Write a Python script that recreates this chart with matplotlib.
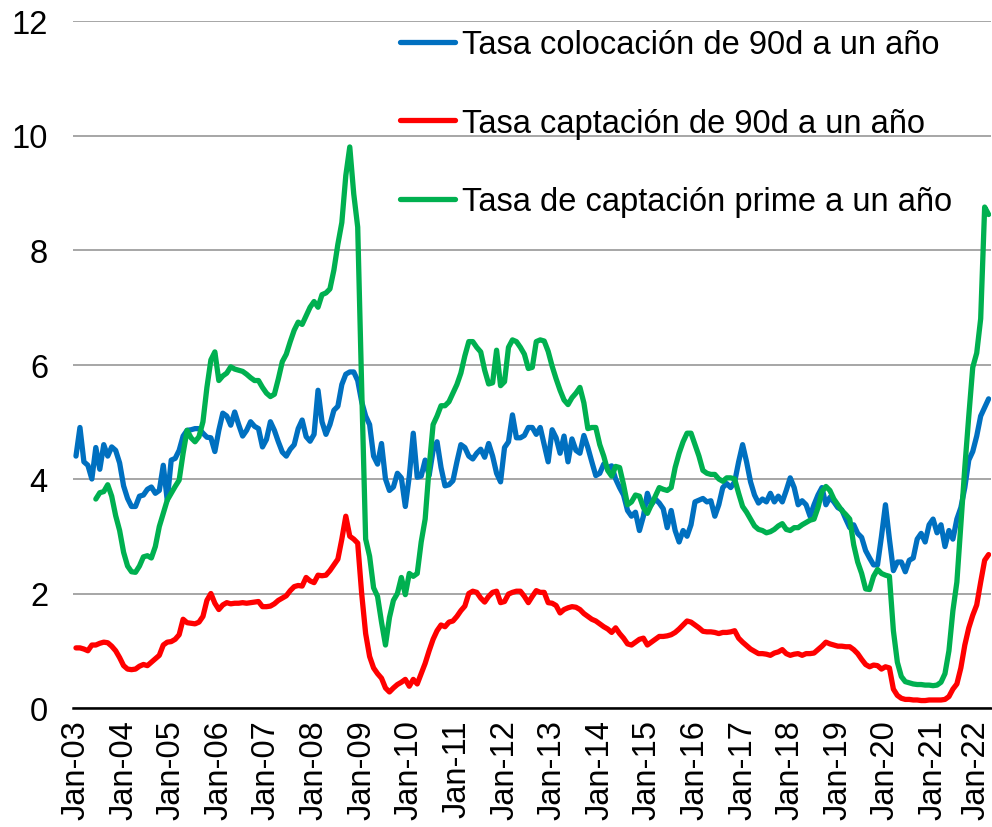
import matplotlib
matplotlib.use("Agg")
import matplotlib.pyplot as plt
import matplotlib.transforms as mtransforms
import numpy as np

plt.rcParams['font.family'] = ['Liberation Sans', 'DejaVu Sans']

# Monthly data, Jan-03 .. Mar-22
colocacion = [
    4.40, 4.90, 4.30, 4.24, 4.00, 4.55, 4.17, 4.60, 4.40, 4.56, 4.50, 4.28,
    3.88, 3.66, 3.52, 3.52, 3.70, 3.72, 3.82, 3.86, 3.75, 3.80, 4.24, 3.63,
    4.33, 4.36, 4.50, 4.75, 4.85, 4.86, 4.88, 4.88, 4.80, 4.73, 4.72, 4.48,
    4.85, 5.15, 5.10, 4.94, 5.17, 4.95, 4.75, 4.85, 5.00, 4.92, 4.88, 4.56,
    4.69, 5.00, 4.85, 4.65, 4.47, 4.40, 4.52, 4.60, 4.88, 5.03, 4.74, 4.66,
    4.78, 5.55, 5.00, 4.78, 4.95, 5.20, 5.27, 5.65, 5.83, 5.87, 5.87, 5.72,
    5.35, 5.10, 4.95, 4.40, 4.26, 4.62, 4.00, 3.80, 3.86, 4.10, 4.02, 3.52,
    4.05, 4.80, 4.03, 4.05, 4.33, 4.06, 4.50, 4.65, 4.20, 3.88, 3.90, 3.97,
    4.30, 4.60, 4.55, 4.40, 4.35, 4.45, 4.52, 4.38, 4.62, 4.40, 4.10, 3.95,
    4.55, 4.65, 5.12, 4.72, 4.72, 4.76, 4.90, 4.90, 4.78, 4.90, 4.60, 4.30,
    4.86, 4.72, 4.45, 4.75, 4.30, 4.70, 4.50, 4.45, 4.76, 4.55, 4.30, 4.06,
    4.10, 4.26, 4.20, 4.23, 4.00, 3.85, 3.72, 3.45, 3.35, 3.42, 3.10, 3.35,
    3.75, 3.55, 3.65, 3.58, 3.48, 3.15, 3.45, 3.10, 2.90, 3.10, 3.00, 3.20,
    3.60, 3.63, 3.66, 3.60, 3.62, 3.35, 3.55, 3.85, 3.92, 3.85, 3.95, 4.30,
    4.60, 4.30, 3.95, 3.72, 3.58, 3.65, 3.60, 3.75, 3.60, 3.70, 3.60, 3.80,
    4.02, 3.85, 3.55, 3.62, 3.55, 3.35, 3.55, 3.72, 3.85, 3.55, 3.68, 3.60,
    3.50, 3.46, 3.30, 3.15, 3.20, 3.05, 2.98, 2.75, 2.62, 2.50, 2.50, 3.00,
    3.55, 2.95, 2.40, 2.55, 2.55, 2.38, 2.58, 2.62, 2.95, 3.05, 2.90, 3.20,
    3.30, 3.06, 3.20, 2.82, 3.10, 2.95, 3.30, 3.50, 3.85, 4.33, 4.48, 4.75,
    5.10, 5.25, 5.40,
]

captacion = [
    1.05, 1.05, 1.03, 1.00, 1.10, 1.10, 1.13, 1.15, 1.14, 1.08, 1.00, 0.88,
    0.74, 0.68, 0.67, 0.68, 0.73, 0.76, 0.74, 0.80, 0.86, 0.92, 1.10, 1.15,
    1.16, 1.20, 1.28, 1.55, 1.49, 1.48, 1.47, 1.50, 1.60, 1.88, 2.00, 1.83,
    1.72, 1.80, 1.84, 1.82, 1.83, 1.83, 1.84, 1.83, 1.84, 1.85, 1.86, 1.77,
    1.77, 1.78, 1.82, 1.88, 1.92, 1.96, 2.05, 2.12, 2.14, 2.13, 2.28, 2.22,
    2.19, 2.32, 2.31, 2.32, 2.40, 2.50, 2.60, 2.95, 3.35, 3.00, 2.95, 2.88,
    2.00, 1.30, 0.90, 0.70, 0.60, 0.52, 0.35, 0.28, 0.35, 0.41, 0.45, 0.50,
    0.38, 0.50, 0.42, 0.60, 0.78, 1.00, 1.20, 1.35, 1.45, 1.42, 1.50, 1.52,
    1.60, 1.70, 1.78, 2.00, 2.04, 2.02, 1.92, 1.85, 1.95, 2.02, 2.04, 1.84,
    1.86, 1.99, 2.02, 2.04, 2.04, 1.95, 1.84, 1.95, 2.05, 2.02, 2.02, 1.84,
    1.83, 1.79, 1.66, 1.72, 1.75, 1.77, 1.76, 1.72, 1.65, 1.60, 1.55, 1.52,
    1.47, 1.42, 1.38, 1.32, 1.40, 1.30, 1.22, 1.12, 1.10, 1.15, 1.20, 1.22,
    1.10, 1.15, 1.20, 1.25, 1.25, 1.26, 1.28, 1.32, 1.38, 1.45, 1.52, 1.50,
    1.45, 1.40, 1.34, 1.33, 1.33, 1.32, 1.30, 1.32, 1.32, 1.33, 1.35, 1.22,
    1.15, 1.09, 1.03, 0.99, 0.95, 0.95, 0.94, 0.92, 0.96, 0.98, 1.02, 0.95,
    0.92, 0.94, 0.95, 0.92, 0.95, 0.95, 0.96, 1.02, 1.08, 1.15, 1.12, 1.10,
    1.08, 1.08, 1.07, 1.07, 1.02, 0.95, 0.85, 0.76, 0.72, 0.75, 0.74, 0.68,
    0.72, 0.70, 0.33, 0.22, 0.17, 0.15, 0.15, 0.14, 0.14, 0.13, 0.13, 0.14,
    0.14, 0.14, 0.14, 0.15, 0.20, 0.33, 0.42, 0.70, 1.10, 1.40, 1.62, 1.80,
    2.20, 2.58, 2.68,
]

# Prime series starts Jun-03 (5 months after Jan-03)
prime_start = 5
prime = [
    3.65, 3.76, 3.78, 3.90, 3.70, 3.36, 3.10,
    2.72, 2.48, 2.38, 2.37, 2.48, 2.64, 2.66, 2.62, 2.82, 3.17, 3.40, 3.63,
    3.75, 3.87, 3.98, 4.45, 4.85, 4.72, 4.65, 4.74, 5.00, 5.60, 6.08, 6.22,
    5.72, 5.80, 5.85, 5.96, 5.92, 5.90, 5.88, 5.83, 5.77, 5.72, 5.72, 5.60,
    5.50, 5.44, 5.48, 5.75, 6.05, 6.18, 6.40, 6.60, 6.74, 6.70, 6.85, 7.00,
    7.10, 7.00, 7.22, 7.25, 7.32, 7.65, 8.10, 8.48, 9.30, 9.80, 8.98, 8.40,
    5.60, 2.95, 2.65, 2.10, 1.95, 1.50, 1.10, 1.58, 1.88, 2.00, 2.28, 1.98,
    2.35, 2.30, 2.35, 2.90, 3.30, 4.20, 4.95, 5.10, 5.28, 5.28, 5.35, 5.50,
    5.65, 5.85, 6.15, 6.40, 6.40, 6.30, 6.22, 5.90, 5.66, 5.68, 6.25, 5.63,
    5.70, 6.30, 6.43, 6.40, 6.30, 6.18, 5.93, 5.95, 6.40, 6.43, 6.41, 6.23,
    5.97, 5.75, 5.55, 5.38, 5.30, 5.42, 5.50, 5.60, 5.33, 4.88, 4.90, 4.90,
    4.60, 4.40, 4.15, 4.05, 4.22, 4.20, 3.90, 3.55, 3.60, 3.72, 3.70, 3.50,
    3.40, 3.55, 3.70, 3.85, 3.82, 3.80, 3.85, 4.20, 4.45, 4.65, 4.80, 4.80,
    4.60, 4.40, 4.15, 4.10, 4.08, 4.08, 4.00, 3.96, 4.02, 4.02, 4.00, 3.75,
    3.52, 3.42, 3.30, 3.18, 3.12, 3.10, 3.06, 3.08, 3.12, 3.18, 3.22, 3.12,
    3.10, 3.15, 3.15, 3.20, 3.24, 3.28, 3.30, 3.50, 3.78, 3.87, 3.80, 3.65,
    3.55, 3.45, 3.38, 3.30, 2.85, 2.55, 2.35, 2.08, 2.07, 2.30, 2.42, 2.35,
    2.32, 2.30, 1.35, 0.80, 0.55, 0.46, 0.44, 0.42, 0.41, 0.41, 0.40, 0.40,
    0.39, 0.40, 0.45, 0.60, 1.00, 1.70, 2.20, 3.20, 4.20, 5.10, 5.95, 6.20,
    6.80, 8.75, 8.62,
]

tick_labels = ["Jan-%02d" % y for y in range(3, 23)]
series_labels = ["Tasa colocación de 90d a un año",
                 "Tasa captación de 90d a un año",
                 "Tasa de captación prime a un año"]
colors = ["#0070C0", "#FF0000", "#00B050"]

x_main = np.arange(len(colocacion))
x_prime = np.arange(prime_start, prime_start + len(prime))

fig = plt.figure(figsize=(9.92, 8.28), dpi=100)
ax = fig.add_axes([73 / 992, 119 / 828, (991 - 73) / 992, (709 - 22) / 828])

FS = 23.5
lw = 3.8
ax.plot(x_main, colocacion, color=colors[0], lw=lw, solid_joinstyle='round',
        solid_capstyle='round', label=series_labels[0], zorder=3)
ax.plot(x_main, captacion, color=colors[1], lw=lw, solid_joinstyle='round',
        solid_capstyle='round', label=series_labels[1], zorder=3)
ax.plot(x_prime, prime, color=colors[2], lw=lw, solid_joinstyle='round',
        solid_capstyle='round', label=series_labels[2], zorder=3)

ax.set_ylim(0, 12)
ax.set_yticks(np.arange(0, 13, 2))
ax.set_xlim(-0.75, 230.6)
ax.set_xticks(np.arange(0, 12 * len(tick_labels), 12))
ax.set_xticklabels(tick_labels, rotation=90, fontsize=FS)
ax.tick_params(axis='x', length=0, pad=8)
ax.tick_params(axis='y', length=0, pad=18, labelsize=FS)

# nudge the last x label so it stays inside the figure
last = ax.get_xticklabels()[-1]
last.set_transform(last.get_transform() +
                   mtransforms.ScaledTranslation(-5 / 100, 0, fig.dpi_scale_trans))

ax.grid(axis='y', color='#A6A6A6', lw=1.4, zorder=0)
ax.set_axisbelow(True)
for s in ['left', 'right', 'top']:
    ax.spines[s].set_visible(False)
ax.spines['bottom'].set_color('#000000')
ax.spines['bottom'].set_linewidth(1.8)
ax.spines['bottom'].set_zorder(4)

fig.legend(loc='upper left', bbox_to_anchor=(400 / 992, 1 - 30 / 828),
           bbox_transform=fig.transFigure, frameon=False, fontsize=FS,
           handlelength=1.69, handletextpad=0.21, labelspacing=1.46,
           borderpad=0, borderaxespad=0)

fig.savefig("out.png", dpi=100)
